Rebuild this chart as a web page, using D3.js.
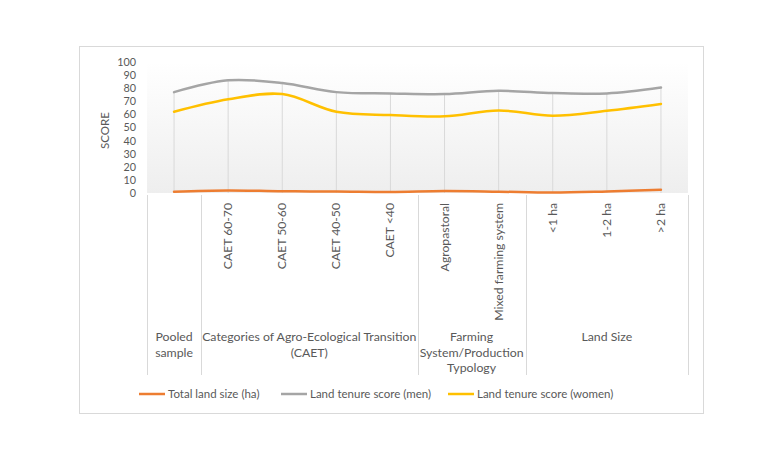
<!DOCTYPE html>
<html>
<head>
<meta charset="utf-8">
<script src="https://cdn.jsdelivr.net/npm/d3@7"></script>
<style>
  html, body { margin: 0; padding: 0; background: #ffffff; }
  svg { display: block; }
  text { font-family: Lato, "Open Sans", sans-serif; fill: #595959; }
</style>
</head>
<body>
<svg id="chart" width="783" height="461"></svg>
<script>
// ---- Data ----
const categories = ["Pooled sample", "CAET 60-70", "CAET 50-60", "CAET 40-50", "CAET <40",
  "Agropastoral", "Mixed farming system", "<1 ha", "1-2 ha", ">2 ha"];
const groups = [
  { lines: ["Pooled", "sample"], count: 1 },
  { lines: ["Categories of Agro-Ecological Transition", "(CAET)"], count: 4 },
  { lines: ["Farming", "System/Production", "Typology"], count: 2 },
  { lines: ["Land Size"], count: 3 }
];
const totalLandSize = [1.0, 2.0, 1.3, 1.2, 0.8, 1.5, 1.0, 0.3, 1.2, 2.5];
const tenureMen     = [77, 86, 84, 77, 76, 75.5, 78, 76.3, 76, 80.5];
const tenureWomen   = [62, 71.5, 75.5, 62, 59.5, 58.5, 63, 59, 62.8, 68];
const seriesNames = ["Total land size (ha)", "Land tenure score (men)", "Land tenure score (women)"];
const seriesColors = ["#ED7D31", "#A5A5A5", "#FFC000"];
const yTicks = [0, 10, 20, 30, 40, 50, 60, 70, 80, 90, 100];
const yTitle = "SCORE";

// ---- Layout ----
const svg = d3.select("#chart");
const plot = { left: 147, right: 688, top: 62, bottom: 193 };

const x = d3.scaleBand().domain(categories).range([plot.left, plot.right]).padding(0);
const y = d3.scaleLinear().domain([0, 100]).range([plot.bottom, plot.top]);

// Chart border
svg.append("rect").attr("x", 79.5).attr("y", 46.5).attr("width", 624).attr("height", 367)
  .attr("fill", "#fff").attr("stroke", "#d9d9d9").attr("stroke-width", 1);

// Plot background gradient
const defs = svg.append("defs");
const grad = defs.append("linearGradient").attr("id", "bg").attr("x1", 0).attr("y1", 0).attr("x2", 0).attr("y2", 1);
grad.append("stop").attr("offset", "0%").attr("stop-color", "#ffffff");
grad.append("stop").attr("offset", "100%").attr("stop-color", "#eeeeee");
svg.append("rect").attr("x", plot.left).attr("y", plot.top)
  .attr("width", plot.right - plot.left).attr("height", plot.bottom - plot.top)
  .attr("fill", "url(#bg)");

// Y axis labels
const yAxis = d3.axisLeft(y).tickValues(yTicks).tickSize(0).tickPadding(0);
const yg = svg.append("g").attr("transform", "translate(136,0)").call(yAxis);
yg.select(".domain").remove();
yg.selectAll("text").attr("font-size", "10.8px").attr("fill", "#595959")
  .style("font-family", 'Lato, "Open Sans", sans-serif');

svg.append("text").attr("transform", `translate(109,${(plot.top + plot.bottom) / 2 + 3}) rotate(-90)`)
  .attr("text-anchor", "middle").attr("font-size", "11.5px").text(yTitle);

// Drop lines (from highest series value down to axis)
const allSeries = [totalLandSize, tenureMen, tenureWomen];
svg.append("g").selectAll("line").data(categories).join("line")
  .attr("x1", d => x(d) + x.bandwidth() / 2).attr("x2", d => x(d) + x.bandwidth() / 2)
  .attr("y1", (d, i) => y(d3.max(allSeries, s => s[i])))
  .attr("y2", plot.bottom)
  .attr("stroke", "#d9d9d9").attr("stroke-width", 1);

// Lines
const line = d3.line()
  .x((d, i) => x(categories[i]) + x.bandwidth() / 2)
  .y(d => y(d))
  .curve(d3.curveCatmullRom.alpha(0.5));
allSeries.forEach((s, k) => {
  svg.append("path").attr("d", line(s)).attr("fill", "none")
    .attr("stroke", seriesColors[k]).attr("stroke-width", 2.5).attr("stroke-linecap", "round");
});

// Category labels (rotated)
svg.append("g").selectAll("text").data(categories.slice(1)).join("text")
  .attr("transform", d => `translate(${x(d) + x.bandwidth() / 2 + 4},203) rotate(-90)`)
  .attr("text-anchor", "end").attr("font-size", "12.2px").text(d => d);

// Group separators and labels
let idx = 0;
const sepXs = [plot.left];
groups.forEach(g => {
  const start = x(categories[idx]);
  idx += g.count;
  const end = idx < categories.length ? x(categories[idx]) : plot.right;
  sepXs.push(end);
  const cx = (start + end) / 2;
  g.lines.forEach((t, j) => {
    svg.append("text").attr("x", cx).attr("y", 341 + j * 15.5)
      .attr("text-anchor", "middle").attr("font-size", "12.3px").text(t);
  });
});
svg.append("g").selectAll("line").data(sepXs).join("line")
  .attr("x1", d => Math.round(d) + 0.5).attr("x2", d => Math.round(d) + 0.5)
  .attr("y1", 195).attr("y2", 375)
  .attr("stroke", "#d9d9d9").attr("stroke-width", 1);

// Legend
const legendItems = [
  { x: 139, tx: 168 },
  { x: 281, tx: 310 },
  { x: 448, tx: 477 }
];
legendItems.forEach((it, k) => {
  svg.append("line").attr("x1", it.x).attr("x2", it.x + 26).attr("y1", 394).attr("y2", 394)
    .attr("stroke", seriesColors[k]).attr("stroke-width", 2.5);
  svg.append("text").attr("x", it.tx).attr("y", 398).attr("font-size", "11.5px").text(seriesNames[k]);
});
</script>
</body>
</html>
